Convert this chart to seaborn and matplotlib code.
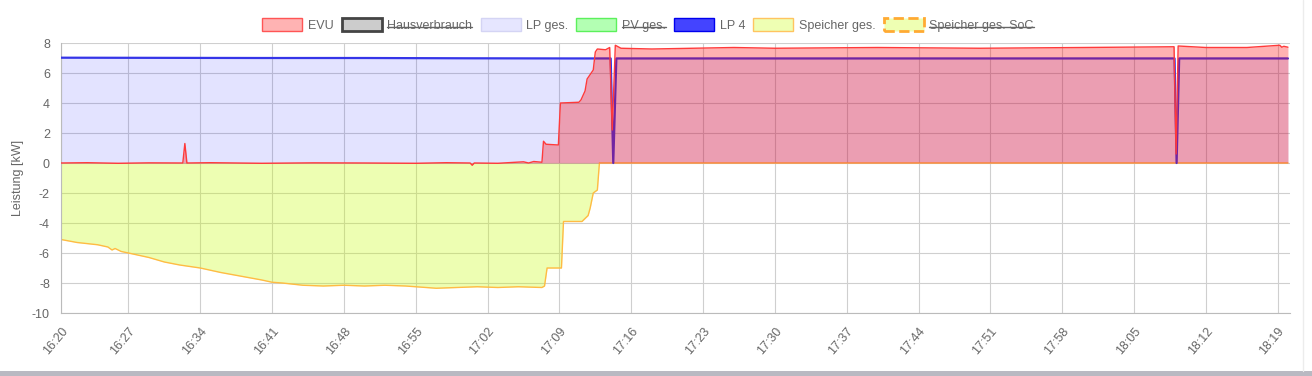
import numpy as np
import pandas as pd
import matplotlib
matplotlib.use("Agg")
import matplotlib.pyplot as plt
from matplotlib.patches import Patch, Rectangle
from matplotlib.lines import Line2D
import seaborn as sns

# ---- data (time in minutes after 16:20, power in kW) ----
evu_t = [0.43, 3, 6, 9, 12.3, 12.5, 12.7, 15, 20, 25,
         30, 35, 38, 40.3, 40.5, 40.7, 43, 45.5, 46, 46.5,
         47.3, 47.45, 47.7, 48.9, 49.1, 50.9, 51.1, 51.5, 51.7, 52.0,
         52.3, 52.5, 52.7, 53.5, 53.9, 54.15, 54.45, 55, 58, 62,
         66, 70, 80, 90, 100, 108.9, 109.1, 109.3, 112, 116,
         119.2, 119.4, 119.6, 120.0]
evu_v = [0.0, 0.02, -0.02, 0.01, 0.0, 1.3, 0.0, 0.02, -0.02, 0.01,
         0.0, -0.02, 0.02, 0.0, -0.15, 0.0, -0.02, 0.08, 0.0, 0.1,
         0.05, 1.45, 1.25, 1.2, 4.0, 4.05, 4.2, 4.8, 5.6, 5.9,
         6.2, 7.4, 7.6, 7.55, 7.7, 2.2, 7.85, 7.65, 7.6, 7.65,
         7.7, 7.65, 7.7, 7.65, 7.7, 7.75, 0.6, 7.8, 7.7, 7.7,
         7.85, 7.72, 7.78, 7.72]

lp_t = [0.43, 10, 20, 30, 40, 50, 54.0, 54.25, 54.55, 60, 80, 100, 108.95, 109.15, 109.4, 120.0]
lp_v = [7.02, 7.01, 7.0, 7.0, 6.98, 6.97, 6.97, 0.0, 6.97, 6.97, 6.97, 6.97, 6.97, 0.0, 6.97, 6.97]

sp_t = [0.43, 2, 4, 5.0, 5.4, 5.7, 6.3, 7, 9, 10.5,
        12, 14, 16, 18, 20, 21, 22, 24, 26, 28,
        30, 32, 34, 36, 37, 39, 41, 43, 45, 47.3,
        47.55, 47.8, 49.2, 49.4, 51.2, 51.5, 51.8, 52.0, 52.3, 52.7,
        52.9, 120.0]
sp_v = [-5.1, -5.3, -5.45, -5.6, -5.8, -5.7, -5.9, -6.0, -6.3, -6.6,
        -6.8, -7.0, -7.3, -7.55, -7.8, -7.95, -8.0, -8.15, -8.2, -8.15,
        -8.2, -8.15, -8.2, -8.3, -8.35, -8.3, -8.25, -8.3, -8.25, -8.3,
        -8.2, -7.0, -7.0, -3.9, -3.9, -3.7, -3.5, -3.0, -2.0, -1.8,
        0.0, 0.0]

x_labels = ["16:20", "16:27", "16:34", "16:41", "16:48", "16:55", "17:02", "17:09", "17:16",
            "17:23", "17:30", "17:37", "17:44", "17:51", "17:58", "18:05", "18:12", "18:19"]
y_ticks = [-10, -8, -6, -4, -2, 0, 2, 4, 6, 8]

legend_labels = ["EVU", "Hausverbrauch", "LP ges.", "PV ges.", "LP 4", "Speicher ges.", "Speicher ges. SoC"]
hidden_labels = ["Hausverbrauch", "PV ges.", "Speicher ges. SoC"]

# ---- style ----
sns.set_theme(style="white")
plt.rcParams['font.family'] = ['Liberation Sans', 'DejaVu Sans']
TXT = '#666666'
GRID = '#cfcfcf'

W, H = 1312, 376
fig = plt.figure(figsize=(W / 100, H / 100), dpi=100, facecolor='white')
ax = fig.add_axes([61 / W, 1 - 313 / H, (1290 - 61) / W, (313 - 43) / H])
ax.set_facecolor('white')

XMIN, XMAX = 0.43, 120.2

# Speicher
ax.fill_between(sp_t, 0, sp_v, color='#c6fc00', alpha=0.3, lw=0, zorder=1)
sns.lineplot(x=sp_t, y=sp_v, ax=ax, color='#ffbb44', lw=1.0, sort=False, estimator=None, zorder=2)
# LP ges.
ax.fill_between(lp_t, 0, lp_v, color='#0000ff', alpha=0.11, lw=0, zorder=1.5)
sns.lineplot(x=lp_t, y=lp_v, ax=ax, color='#d6d6fa', lw=1.0, sort=False, estimator=None, zorder=2.5)
# LP 4
sns.lineplot(x=lp_t, y=lp_v, ax=ax, color='#3535e8', lw=1.6, sort=False, estimator=None, zorder=3)
# EVU
ax.fill_between(evu_t, 0, evu_v, color='#ff0000', alpha=0.3, lw=0, zorder=4)
sns.lineplot(x=evu_t, y=evu_v, ax=ax, color='#ff3a3a', lw=1.0, sort=False, estimator=None, zorder=5)

ax.set_xlim(XMIN, XMAX)
ax.set_ylim(-10, 8)

def lab2min(s):
    h, m = s.split(":")
    return max(int(h) * 60 + int(m) - (16 * 60 + 20), XMIN)

ax.set_xticks([lab2min(s) for s in x_labels])
ax.set_xticklabels(x_labels, rotation=50, ha='right', va='top', rotation_mode='anchor')
ax.set_yticks(y_ticks)
ax.set_yticklabels([str(v) for v in y_ticks])

ax.grid(True, color=GRID, lw=0.8)
ax.set_axisbelow(True)
for s in ['top', 'right']:
    ax.spines[s].set_visible(False)
for s in ['left', 'bottom']:
    ax.spines[s].set_color('#bbbbbb')
    ax.spines[s].set_linewidth(0.8)
ax.tick_params(axis='both', length=6, width=0.8, color=GRID, labelcolor=TXT, labelsize=9)
ax.tick_params(axis='x', pad=3)
ax.tick_params(axis='y', pad=2)

ax.set_xlabel('')
ax.set_ylabel('Leistung [kW]', color=TXT, fontsize=9)
ax.yaxis.set_label_coords((24 - 61) / (1290 - 61), 0.5)

# ---- legend ----
handles = [
    Patch(facecolor='#ffb3b3', edgecolor='#ff5555', lw=1.0),
    Patch(facecolor='#cccccc', edgecolor='#444444', lw=2.0),
    Patch(facecolor='#e6e6ff', edgecolor='#d4d4f4', lw=1.0),
    Patch(facecolor='#b3ffb3', edgecolor='#5cf05c', lw=1.0),
    Patch(facecolor='#4444ff', edgecolor='#0000ee', lw=1.0),
    Patch(facecolor='#eeffb3', edgecolor='#ffc460', lw=1.0),
    Patch(facecolor='#eeffb3', edgecolor='#ffaa33', lw=2.0, linestyle='--'),
]
leg = fig.legend(handles, legend_labels, loc='center', bbox_to_anchor=(648 / W, 1 - 25 / H),
                 ncol=len(legend_labels), frameon=False, fontsize=9,
                 handlelength=3.2, handleheight=1.15, handletextpad=0.45, columnspacing=0.65,
                 borderaxespad=0, borderpad=0)
for t in leg.get_texts():
    t.set_color(TXT)

fig.canvas.draw()
renderer = fig.canvas.get_renderer()
for t in leg.get_texts():
    if t.get_text() in hidden_labels:
        bb = t.get_window_extent(renderer)
        yy = (bb.y0 + bb.height * 0.42) / fig.bbox.height
        fig.add_artist(Line2D([bb.x0 / fig.bbox.width, bb.x1 / fig.bbox.width], [yy, yy],
                              transform=fig.transFigure, color=TXT, lw=1.0))

# page frame bits
fig.add_artist(Rectangle((0, 0), 1, 5 / H, transform=fig.transFigure, color='#b9b9c2', lw=0))
fig.add_artist(Line2D([1302.5 / W, 1302.5 / W], [5 / H, 1], transform=fig.transFigure, color='#ececec', lw=1))

fig.savefig('out.png', dpi=100, facecolor='white')
